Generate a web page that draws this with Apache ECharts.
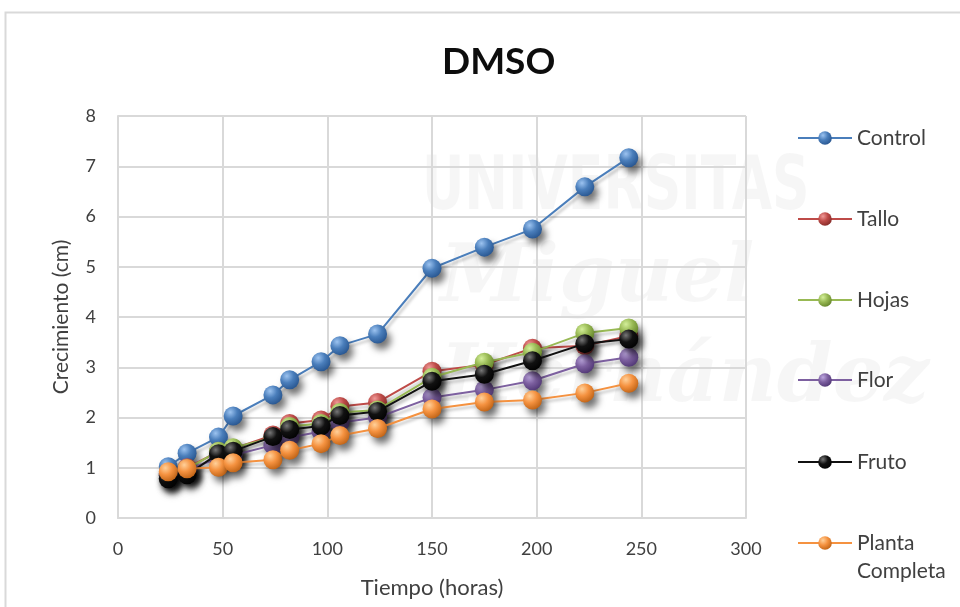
<!DOCTYPE html>
<html>
<head>
<meta charset="utf-8">
<script src="https://cdn.jsdelivr.net/npm/echarts@6/dist/echarts.min.js"></script>
<style>
html,body{margin:0;padding:0;background:#fff;}
#c{width:960px;height:607px;}
</style>
</head>
<body>
<div id="c"></div>
<script>
const hours = [24, 33, 48, 55, 74, 82, 97, 106, 124, 150, 175, 198, 223, 244];
const seriesNames = ['Control', 'Tallo', 'Hojas', 'Flor', 'Fruto', 'Planta Completa'];
const control = [1.02, 1.29, 1.61, 2.03, 2.45, 2.75, 3.11, 3.43, 3.66, 4.97, 5.39, 5.75, 6.59, 7.17];
const tallo   = [0.88, 1.00, 1.32, 1.38, 1.65, 1.88, 1.95, 2.22, 2.30, 2.92, 3.05, 3.38, 3.43, 3.62];
const hojas   = [0.85, 0.98, 1.33, 1.40, 1.60, 1.82, 1.88, 2.10, 2.15, 2.80, 3.10, 3.30, 3.68, 3.78];
const flor    = [0.85, 0.95, 1.20, 1.25, 1.45, 1.60, 1.72, 1.90, 2.00, 2.40, 2.55, 2.73, 3.07, 3.20];
const fruto   = [0.78, 0.86, 1.28, 1.33, 1.62, 1.76, 1.83, 2.04, 2.12, 2.72, 2.86, 3.13, 3.47, 3.56];
const planta  = [0.92, 0.98, 1.01, 1.10, 1.16, 1.35, 1.48, 1.64, 1.78, 2.17, 2.31, 2.35, 2.49, 2.68];
const values = [control, tallo, hojas, flor, fruto, planta];
const xTicks = [0, 50, 100, 150, 200, 250, 300];
const yTicks = [0, 1, 2, 3, 4, 5, 6, 7, 8];

const colors = ['#4A7EBB', '#BE4B48', '#98B954', '#7D60A0', '#111111', '#F59240'];
const lights = ['#9cc3f0', '#f09a98', '#d4ef9a', '#bca6df', '#777777', '#ffd09a'];
const darks  = ['#23508a', '#7d2624', '#5e7e26', '#4b3270', '#000000', '#b95d10'];
const legendY = [138, 219, 300, 380, 462, 543];

function ball(i) {
  return new echarts.graphic.RadialGradient(0.35, 0.3, 0.8, [
    {offset: 0, color: lights[i]},
    {offset: 0.45, color: colors[i]},
    {offset: 1, color: darks[i]}
  ]);
}

const FONT = 'Lato';
const chart = echarts.init(document.getElementById('c'), null, {renderer: 'canvas'});

const series = seriesNames.map((name, i) => ({
  name: name,
  type: 'line',
  data: hours.map((h, k) => [h, values[i][k]]),
  symbol: 'circle',
  symbolSize: 19,
  lineStyle: {color: colors[i], width: 2, shadowColor: 'rgba(0,0,0,0.25)', shadowBlur: 3, shadowOffsetX: 2, shadowOffsetY: 3},
  itemStyle: {color: ball(i), shadowColor: 'rgba(0,0,0,0.55)', shadowBlur: 7, shadowOffsetX: 4, shadowOffsetY: 6},
  emphasis: {disabled: true},
  z: 3 + i
}));

const legends = seriesNames.map((name, i) => {
  const multi = name === 'Planta Completa';
  const lh = 28;
  return {
    data: [name],
    left: 797,
    top: multi ? legendY[i] - lh * 1.5 : legendY[i] - 12,
    itemWidth: 54,
    itemHeight: 17,
    itemGap: 5,
    padding: 0,
    selectedMode: false,
    itemStyle: {shadowBlur: 0, shadowOffsetX: 0, shadowOffsetY: 0},
    lineStyle: {width: 2, shadowBlur: 0, shadowOffsetX: 0, shadowOffsetY: 0},
    formatter: multi ? ' \nPlanta\nCompleta' : '{name}',
    textStyle: {
      fontFamily: FONT, fontSize: 21, color: '#404040',
      lineHeight: multi ? lh : 24
    }
  };
});

const option = {
  animation: false,
  backgroundColor: '#ffffff',
  title: {
    text: 'DMSO', left: 437, top: 39,
    textStyle: {fontFamily: FONT, fontWeight: 'bold', fontSize: 37, color: '#0d0d0d'}
  },
  graphic: [
    {type: 'rect', z: -10, silent: true, shape: {x: 5.5, y: 12.5, width: 980, height: 620}, style: {fill: null, stroke: '#d9d9d9', lineWidth: 2}},
    {type: 'text', z: -5, silent: true, left: 422, top: 152, scaleY: 1.3, style: {text: 'UNIVERSITAS', fontFamily: 'DejaVu Sans Condensed', fontWeight: 'bold', fontSize: 58, fill: 'rgba(0,0,0,0.035)'}},
    {type: 'text', z: -5, silent: true, left: 440, top: 240, style: {text: 'Miguel', fontFamily: 'DejaVu Serif', fontWeight: 'bold', fontStyle: 'italic', fontSize: 80, fill: 'rgba(0,0,0,0.035)'}},
    {type: 'text', z: -5, silent: true, left: 440, top: 340, style: {text: 'Hernández', fontFamily: 'DejaVu Serif', fontWeight: 'bold', fontStyle: 'italic', fontSize: 80, fill: 'rgba(0,0,0,0.035)'}}
  ],
  legend: legends,
  grid: {left: 118, right: 214, top: 116, bottom: 89, containLabel: false},
  xAxis: {
    type: 'value', min: xTicks[0], max: xTicks[xTicks.length - 1], interval: 50,
    name: 'Tiempo (horas)', nameLocation: 'middle', nameGap: 59,
    nameTextStyle: {fontFamily: FONT, fontSize: 22, color: '#404040'},
    axisLine: {show: true, lineStyle: {color: '#d9d9d9', width: 2}},
    axisTick: {show: false},
    axisLabel: {fontFamily: FONT, fontSize: 18, color: '#404040', margin: 22},
    splitLine: {show: true, lineStyle: {color: '#d9d9d9', width: 2}}
  },
  yAxis: {
    type: 'value', min: yTicks[0], max: yTicks[yTicks.length - 1], interval: 1,
    name: 'Crecimiento (cm)', nameLocation: 'middle', nameGap: 46, nameRotate: 90,
    nameTextStyle: {fontFamily: FONT, fontSize: 21, color: '#404040'},
    axisLine: {show: true, lineStyle: {color: '#d9d9d9', width: 2}},
    axisTick: {show: false},
    axisLabel: {fontFamily: FONT, fontSize: 18, color: '#404040', margin: 22},
    splitLine: {show: true, lineStyle: {color: '#d9d9d9', width: 2}}
  },
  series: series
};
chart.setOption(option);
</script>
</body>
</html>
